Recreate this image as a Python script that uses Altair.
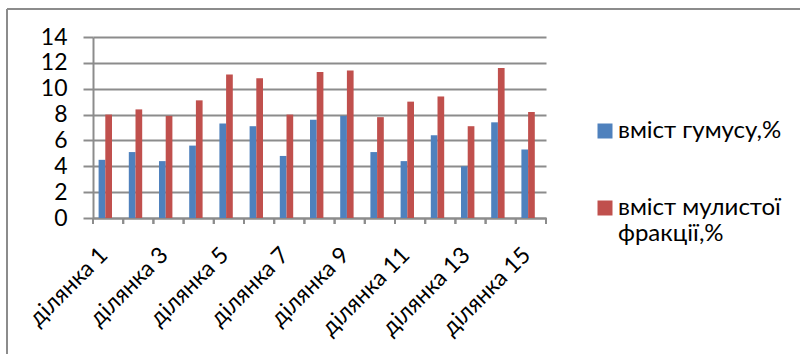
import altair as alt
import pandas as pd

# Sampling plots and the two measured soil properties
sites = [
    "ділянка 1", "ділянка 2", "ділянка 3", "ділянка 4", "ділянка 5",
    "ділянка 6", "ділянка 7", "ділянка 8", "ділянка 9", "ділянка 10",
    "ділянка 11", "ділянка 12", "ділянка 13", "ділянка 14", "ділянка 15",
]
humus = [4.5, 5.1, 4.4, 5.6, 7.3, 7.1, 4.8, 7.6, 7.9, 5.1, 4.4, 6.4, 4.0, 7.4, 5.3]
silt = [8.0, 8.4, 7.9, 9.1, 11.1, 10.8, 8.0, 11.3, 11.4, 7.8, 9.0, 9.4, 7.1, 11.6, 8.2]
series_names = ["вміст гумусу,%", "вміст мулистої фракції,%"]
y_ticks = [0, 2, 4, 6, 8, 10, 12, 14]
odd_sites = sites[::2]

rows = []
for s, h, m in zip(sites, humus, silt):
    rows.append({"site": s, "series": series_names[0], "value": h})
    rows.append({"site": s, "series": series_names[1], "value": m})
df = pd.DataFrame(rows)

W, H = 453, 181
PAD = {"left": 93, "top": 37, "right": 254, "bottom": 136}
FONT = "Lato"
GRID = "#8c8c8c"
BLUE = "#4F81BD"
RED = "#C0504D"

x_scale = alt.Scale(domain=sites, paddingInner=0, paddingOuter=0)

odd_list = "[" + ", ".join("'" + s + "'" for s in odd_sites) + "]"
x_axis = alt.Axis(
    title=None,
    ticks=False,
    grid=False,
    domain=True,
    domainColor=GRID,
    domainWidth=2,
    labelExpr="indexof(" + odd_list + ", datum.value) >= 0 ? datum.label : ''",
    labelAngle=-45,
    labelAlign="right",
    labelBaseline="middle",
    labelFont=FONT,
    labelFontSize=23,
    labelColor="#000000",
    labelPadding=33,
    labelOffset=-4,
    labelOverlap=False,
)

# Outer chart frame: left and top edges
one = pd.DataFrame({"k": [0]})
frame_left = alt.Chart(one).mark_rule(color=GRID, strokeWidth=2).encode(
    x=alt.value(-86), y=alt.value(-28), y2=alt.value(H + PAD["bottom"])
)
frame_top = alt.Chart(one).mark_rule(color=GRID, strokeWidth=2).encode(
    x=alt.value(-86), x2=alt.value(W + PAD["right"]), y=alt.value(-28)
)

bars = alt.Chart(df).mark_bar().encode(
    x=alt.X("site:N", sort=sites, scale=x_scale, axis=x_axis),
    # the pair of bars sits slightly left of each category's centre
    xOffset=alt.XOffset(
        "series:N",
        sort=series_names,
        scale=alt.Scale(range=[5.6, 19.0], paddingInner=0, paddingOuter=0),
    ),
    y=alt.Y(
        "value:Q",
        scale=alt.Scale(domain=[0, 14], nice=False),
        axis=alt.Axis(
            title=None,
            values=y_ticks,
            grid=True,
            gridColor=GRID,
            gridWidth=2,
            tickColor=GRID,
            tickWidth=2,
            tickSize=10,
            domainColor=GRID,
            domainWidth=2,
            labelFont=FONT,
            labelFontSize=23,
            labelColor="#000000",
            labelPadding=16,
        ),
    ),
    color=alt.Color(
        "series:N",
        sort=series_names,
        scale=alt.Scale(domain=series_names, range=[BLUE, RED]),
        legend=alt.Legend(
            title=None,
            orient="none",
            legendX=500,
            legendY=82,
            padding=0,
            symbolType="square",
            symbolSize=225,
            symbolStrokeWidth=0,
            labelFont=FONT,
            labelFontSize=24,
            labelColor="#000000",
            labelOffset=1,
            labelLimit=300,
            rowPadding=53,
            labelExpr="datum.label == 'вміст мулистої фракції,%' ? ['вміст мулистої', 'фракції,%'] : datum.label",
        ),
    ),
)

# Category tick marks sit on the boundaries between plots
tick_df = pd.DataFrame({"site": sites})
ticks_start = alt.Chart(tick_df).mark_rule(color=GRID, strokeWidth=2).encode(
    x=alt.X("site:N", sort=sites, scale=x_scale, bandPosition=0, axis=x_axis),
    y=alt.value(H),
    y2=alt.value(H + 6),
)
ticks_end = alt.Chart(tick_df).mark_rule(color=GRID, strokeWidth=2).encode(
    x=alt.X("site:N", sort=sites, scale=x_scale, bandPosition=1, axis=x_axis),
    y=alt.value(H),
    y2=alt.value(H + 6),
)

chart = alt.layer(frame_left, frame_top, bars, ticks_start, ticks_end).properties(
    width=W,
    height=H,
    padding=PAD,
    autosize=alt.AutoSizeParams(type="none"),
).configure(font=FONT).configure_view(stroke=None)

chart.save("out.html", embed_options={"renderer": "svg", "actions": False})
